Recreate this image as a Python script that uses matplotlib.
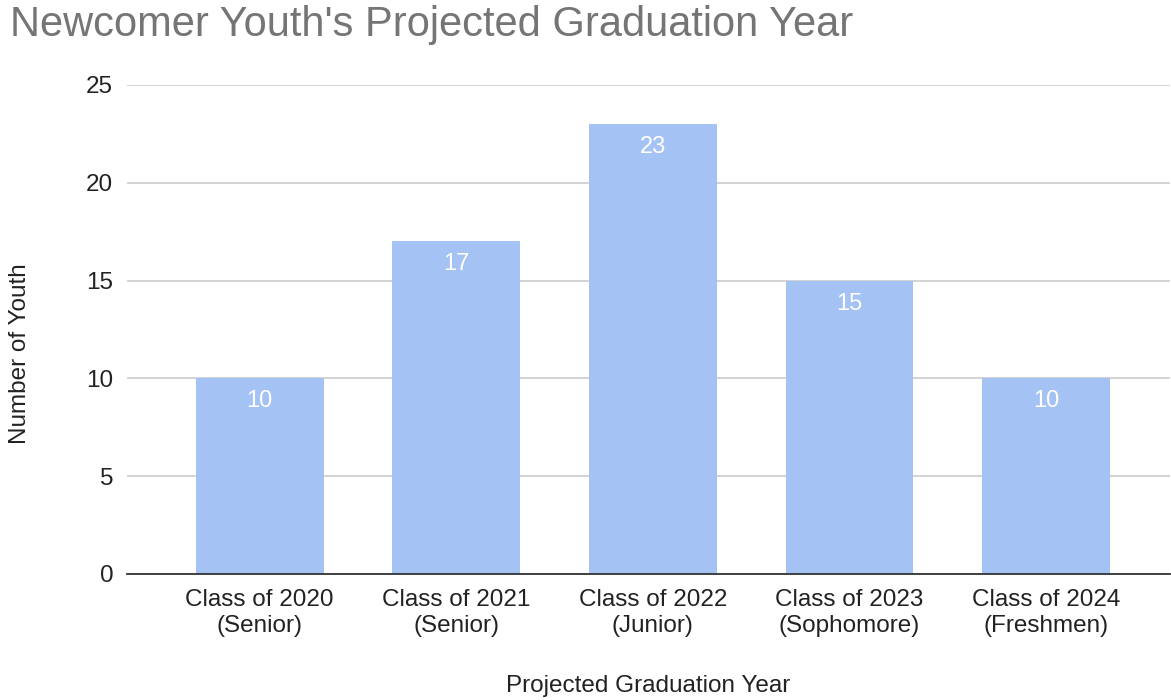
import matplotlib.pyplot as plt
import numpy as np

plt.rcParams['font.family'] = ['Liberation Sans', 'DejaVu Sans']

# Newcomer youth counts by projected graduation class
classes = ["Class of 2020\n(Senior)", "Class of 2021\n(Senior)", "Class of 2022\n(Junior)",
           "Class of 2023\n(Sophomore)", "Class of 2024\n(Freshmen)"]
youth = [10, 17, 23, 15, 10]

fig = plt.figure(figsize=(11.71, 7.0), dpi=100)
ax = fig.add_axes([0.1085, 0.18, 0.8905, 0.6986])

x = np.arange(len(classes))
bars = ax.bar(x, youth, width=0.65, color='#a4c2f4', zorder=2)

for rect, v in zip(bars, youth):
    ax.annotate(str(v), (rect.get_x() + rect.get_width() / 2, v),
                xytext=(0, -16.5), textcoords='offset points',
                ha='center', va='center', color='white', fontsize=17)

ax.set_ylim(0, 25)
ax.set_xlim(-0.675, 4.63)
ax.set_yticks(range(0, 26, 5))
ax.set_xticks(x)
ax.set_xticklabels(classes, fontsize=17.5, color='#222222', linespacing=1.2)
ax.tick_params(axis='y', labelsize=17.5, labelcolor='#222222', length=0, pad=10)
ax.tick_params(axis='x', length=0, pad=11)
ax.yaxis.grid(True, color='#cccccc', linewidth=1.2, zorder=0)

for s in ['top', 'right', 'left']:
    ax.spines[s].set_visible(False)
ax.spines['bottom'].set_color('#333333')
ax.spines['bottom'].set_linewidth(1.3)
ax.spines['bottom'].set_zorder(3)

ax.set_ylabel("Number of Youth", fontsize=17.5, color='#222222', va='center')
ax.set_xlabel("Projected Graduation Year", fontsize=17.5, color='#222222', va='center')
ax.yaxis.set_label_coords(-0.1026, 0.45)
ax.xaxis.set_label_coords(0.5, -0.229)

fig.text(0.0085, 0.964, "Newcomer Youth's Projected Graduation Year",
         fontsize=30, color='#757575', ha='left', va='center')

fig.savefig('out.png', dpi=100)
